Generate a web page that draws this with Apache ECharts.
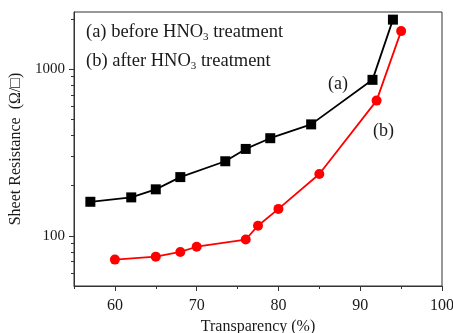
<!DOCTYPE html>
<html>
<head>
<meta charset="utf-8">
<script src="https://cdn.jsdelivr.net/npm/echarts@6/dist/echarts.min.js"></script>
<style>
  html, body { margin: 0; padding: 0; background: #fff; }
  #chart { width: 453px; height: 333px; }
</style>
</head>
<body>
<div id="chart"></div>
<script>
  // before HNO3 treatment (a)
  const beforeX = [57, 62, 65, 68, 73.5, 76, 79, 84, 91.5, 94];
  const beforeY = [160, 170, 190, 225, 280, 332, 385, 466, 862, 1980];
  // after HNO3 treatment (b)
  const afterX = [60, 65, 68, 70, 76, 77.5, 80, 85, 92, 95];
  const afterY = [72, 75, 80, 86, 95, 115, 145, 235, 647, 1690];

  const xMajor = [60, 70, 80, 90, 100];
  const xMinor = [55, 65, 75, 85, 95];
  const yMajor = [100, 1000];
  const yMinor = [60, 70, 80, 90, 200, 300, 400, 500, 600, 700, 800, 900, 2000];

  const serif = '"Liberation Serif", "Times New Roman", "DejaVu Serif", serif';
  const axisColor = '#333';
  const textColor = '#1a1a1a';

  const chart = echarts.init(document.getElementById('chart'));

  const zip = (xs, ys) => xs.map((x, i) => [x, ys[i]]);
  const subRich = { sub: { fontSize: 11, fontFamily: serif, verticalAlign: 'bottom', padding: [9, 0, 0, 0] } };

  const option = {
    backgroundColor: '#fff',
    animation: false,
    grid: {
      left: 74, right: 11, top: 12, bottom: 47,
      outerBoundsMode: 'none',
      show: true, borderColor: axisColor, borderWidth: 1
    },
    xAxis: [
      {
        type: 'value', min: 55, max: 100,
        name: 'Transparency (%)', nameLocation: 'middle', nameGap: 32,
        nameTextStyle: { fontFamily: serif, fontSize: 16, color: textColor },
        axisLine: { show: true, lineStyle: { color: axisColor } },
        axisTick: { show: true, length: 5, customValues: xMajor, lineStyle: { color: axisColor } },
        axisLabel: { customValues: xMajor, fontFamily: serif, fontSize: 16, color: textColor, margin: 12 },
        splitLine: { show: false }
      },
      {
        type: 'value', min: 55, max: 100, position: 'bottom',
        axisLine: { show: false },
        axisTick: { show: true, length: 3, customValues: xMinor, lineStyle: { color: axisColor } },
        axisLabel: { show: false },
        splitLine: { show: false }
      }
    ],
    yAxis: [
      {
        type: 'log', min: 50, max: 2200,
        name: 'Sheet Resistance  (Ω/□)', nameLocation: 'middle', nameGap: 44,
        nameTextStyle: { fontFamily: serif, fontSize: 16, color: textColor },
        axisLine: { show: true, lineStyle: { color: axisColor } },
        axisTick: { show: true, length: 5, customValues: yMajor, lineStyle: { color: axisColor } },
        axisLabel: {
          customValues: yMajor, fontFamily: serif, fontSize: 15, color: textColor, margin: 9,
          formatter: (v) => String(Math.round(v))
        },
        splitLine: { show: false }
      },
      {
        type: 'log', min: 50, max: 2200, position: 'left',
        axisLine: { show: false },
        axisTick: { show: true, length: 3, customValues: yMinor, lineStyle: { color: axisColor } },
        axisLabel: { show: false },
        splitLine: { show: false }
      }
    ],
    graphic: [
      {
        type: 'text', left: 86, top: 23,
        style: { text: '(a) before HNO{sub|3} treatment', font: '18.5px ' + serif, fill: textColor, rich: subRich }
      },
      {
        type: 'text', left: 86, top: 52,
        style: { text: '(b) after HNO{sub|3} treatment', font: '18.5px ' + serif, fill: textColor, rich: subRich }
      },
      { type: 'text', left: 328, top: 75, style: { text: '(a)', font: '18px ' + serif, fill: textColor } },
      { type: 'text', left: 373, top: 122, style: { text: '(b)', font: '18px ' + serif, fill: textColor } }
    ],
    series: [
      {
        name: '(a)', type: 'line', data: zip(beforeX, beforeY),
        symbol: 'rect', symbolSize: 10,
        lineStyle: { color: '#000', width: 1.8 },
        itemStyle: { color: '#000' }
      },
      {
        name: '(b)', type: 'line', data: zip(afterX, afterY),
        symbol: 'circle', symbolSize: 10,
        lineStyle: { color: '#f00', width: 1.8 },
        itemStyle: { color: '#f00' }
      }
    ]
  };

  chart.setOption(option);
</script>
</body>
</html>
